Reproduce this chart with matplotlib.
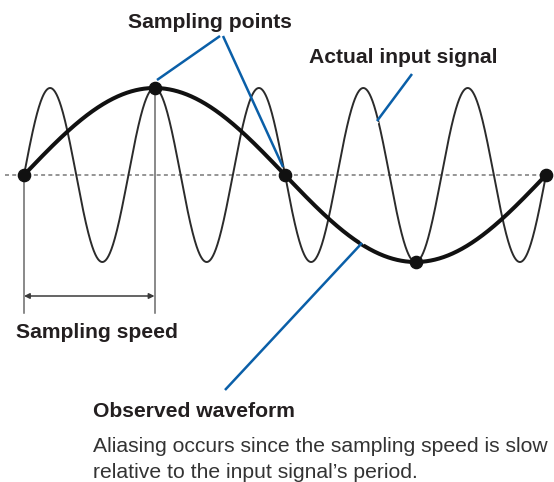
import numpy as np
import matplotlib.pyplot as plt

# signal description (time in sampling intervals, amplitude normalised)
sample_times = [0, 1, 2, 3, 4]
input_cycles_per_sample = 1.25     # actual input signal
observed_cycles_per_sample = 0.25  # aliased (observed) waveform
labels_bold = ["Sampling points", "Actual input signal", "Sampling speed", "Observed waveform"]
note_lines = ["Aliasing occurs since the sampling speed is slow",
              "relative to the input signal\u2019s period."]

W, H = 554, 482
BLUE = "#0a5fa8"
INK = "#231f20"

plt.rcParams['font.family'] = ['Liberation Sans', 'DejaVu Sans']

fig = plt.figure(figsize=(W / 100, H / 100), dpi=100)
ax = fig.add_axes([0, 0, 1, 1])
ax.axis("off")

# pixel geometry of the drawing: sample 0 at x=24, 130.5 px per interval,
# zero line at y=175, amplitude 87 px
x0, dx, y0, amp = 24, 130.5, 175, 87
ax.set_xlim(-x0 / dx, (W - x0) / dx)
ax.set_ylim(-(H - y0) / amp, y0 / amp)

def P(x, y):
    # pixel -> axes fraction (for annotation placement only)
    return x / W, 1 - y / H

t = np.linspace(sample_times[0], sample_times[-1], 2000)
ts = np.array(sample_times)
fast = np.sin(2 * np.pi * input_cycles_per_sample * t)
slow = np.sin(2 * np.pi * observed_cycles_per_sample * t)
samp = np.sin(2 * np.pi * observed_cycles_per_sample * ts)

# dotted zero line
ax.plot([P(5, 0)[0], P(551, 0)[0]], [1 - y0 / H] * 2, transform=ax.transAxes,
        color="#8c8c8c", lw=1.3, ls=(0, (2.2, 1.8)), zorder=1)

ax.plot(t, fast, color="#2b2b2b", lw=1.4, zorder=2)
ax.plot(t, slow, color="#111111", lw=2.9, zorder=3)
ax.plot(ts, samp, "o", color="#111111", ms=8.8, zorder=4)

# sampling interval marker
for s in sample_times[:2]:
    ax.plot([s, s], [samp[s], -(313 - y0) / amp], color="#6a6a6a", lw=1.1, zorder=1)
ya = -(296 - y0) / amp
ax.annotate("", xy=(sample_times[0], ya), xytext=(sample_times[1], ya),
            arrowprops=dict(arrowstyle="<|-|>", color="#3a3a3a", lw=1.1,
                            mutation_scale=8, shrinkA=0, shrinkB=0))

# pointer lines
def pointer(a, b, gap=0):
    xa, ya_ = P(*a)
    xb, yb = P(*b)
    if gap:
        v = np.array(b, float) - np.array(a, float)
        v /= np.hypot(*v)
        e = np.array(b) + v * gap
        xe, ye = P(*e)
        ax.plot([xb, xe], [yb, ye], transform=ax.transAxes, color="white",
                lw=3.4, solid_capstyle="butt", zorder=5)
    ax.plot([xa, xb], [ya_, yb], transform=ax.transAxes, color=BLUE, lw=1.8,
            solid_capstyle="butt", zorder=6)

pointer((220, 36), (157, 80))
pointer((223, 36), (283, 167))
pointer((412, 74), (377, 121), gap=7)
pointer((225, 390), (362, 243), gap=6)

fs = 15.2
ax.text(*P(128, 28), labels_bold[0], transform=ax.transAxes, fontsize=fs,
        fontweight="bold", color=INK, va="baseline")
ax.text(*P(309, 63), labels_bold[1], transform=ax.transAxes, fontsize=fs,
        fontweight="bold", color=INK, va="baseline")
ax.text(*P(16, 338), labels_bold[2], transform=ax.transAxes, fontsize=fs,
        fontweight="bold", color=INK, va="baseline")
ax.text(*P(93, 417), labels_bold[3], transform=ax.transAxes, fontsize=fs,
        fontweight="bold", color=INK, va="baseline")
ax.text(*P(93, 452), note_lines[0], transform=ax.transAxes, fontsize=fs,
        color="#333333", va="baseline")
ax.text(*P(93, 478), note_lines[1], transform=ax.transAxes, fontsize=fs,
        color="#333333", va="baseline")

fig.savefig("out.png", dpi=100)
